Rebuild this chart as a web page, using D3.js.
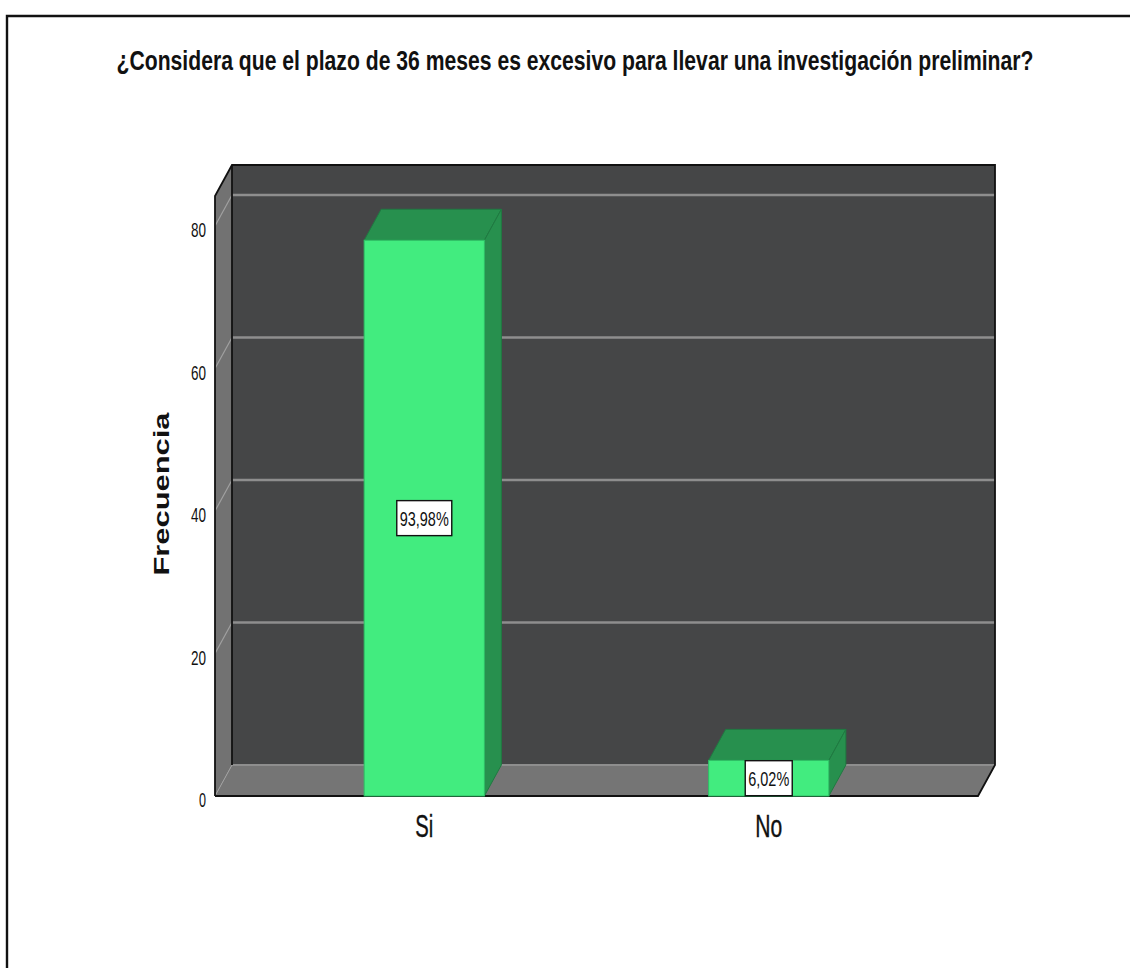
<!DOCTYPE html>
<html><head><meta charset="utf-8">
<script src="https://cdnjs.cloudflare.com/ajax/libs/d3/7.9.0/d3.min.js"></script>
<style>html,body{margin:0;padding:0;background:#fff}svg{display:block}text{font-family:"Liberation Sans",Arial,sans-serif;fill:#111}</style>
</head><body><svg id="c" width="1130" height="968"></svg>
<script>
const titleText = "¿Considera que el plazo de 36 meses es excesivo para llevar una investigación preliminar?";
const yTitle = "Frecuencia";
const categories = ["Si", "No"];
const frequencies = [78, 5];
const percentLabels = ["93,98%", "6,02%"];
const yTicks = [0, 20, 40, 60, 80];

const svg = d3.select("#c");
const dx = 17, dy = -31;
const x0 = 215, x1 = 978, yBase = 796, yTop = 196;
const y = d3.scaleLinear().domain([0, 80]).range([yBase, 226]);
const x = d3.scaleBand().domain(categories).range([x0, x1]).paddingInner(0.651).paddingOuter(0.433);
const pts = a => a.map(p => p.join(",")).join(" ");

// outer frame: left and top edges only, running off the page
svg.append("path").attr("d", "M7,968V16H1130").attr("fill", "none").attr("stroke", "#111").attr("stroke-width", 2.4);

// title: tall, horizontally condensed glyphs, as in the reference
const titleEl = svg.append("text").attr("text-anchor", "middle").attr("font-size", 20).attr("font-weight", 700).text(titleText);
const titleScaleX = 917 / titleEl.node().getComputedTextLength();
titleEl.attr("transform", `translate(575,70) scale(${titleScaleX * 20 / 27},${27 / 20}) scale(${27 / 20},1)`);

// walls
svg.append("rect").attr("x", x0 + dx).attr("y", yTop + dy).attr("width", x1 - x0).attr("height", yBase - yTop).attr("fill", "#454647");
svg.append("polygon").attr("points", pts([[x0, yTop], [x0 + dx, yTop + dy], [x0 + dx, yBase + dy], [x0, yBase]])).attr("fill", "#727272");
svg.append("polygon").attr("points", pts([[x0, yBase], [x0 + dx, yBase + dy], [x1 + dx, yBase + dy], [x1, yBase]])).attr("fill", "#757575");

// grid
yTicks.filter(t => t > 0).forEach(t => {
  svg.append("line").attr("x1", x0).attr("y1", y(t)).attr("x2", x0 + dx).attr("y2", y(t) + dy).attr("stroke", "#a0a0a0").attr("stroke-width", 1.2);
  svg.append("line").attr("x1", x0 + dx).attr("y1", y(t) + dy).attr("x2", x1 + dx).attr("y2", y(t) + dy).attr("stroke", "#8e8e8e").attr("stroke-width", 2.4);
});
svg.append("line").attr("x1", x0 + dx).attr("y1", y(0) + dy).attr("x2", x1 + dx).attr("y2", y(0) + dy).attr("stroke", "#8e8e8e").attr("stroke-width", 2);
svg.append("line").attr("x1", x0).attr("y1", yBase).attr("x2", x0 + dx).attr("y2", yBase + dy).attr("stroke", "#a0a0a0").attr("stroke-width", 1);

// wall outlines
svg.append("path").attr("d", `M${x0},${yBase}V${yTop}L${x0 + dx},${yTop + dy}H${x1 + dx}V${yBase + dy}L${x1},${yBase}H${x0}`)
  .attr("fill", "none").attr("stroke", "#111").attr("stroke-width", 1.8);
svg.append("line").attr("x1", x0 + dx).attr("y1", yTop + dy).attr("x2", x0 + dx).attr("y2", yBase + dy).attr("stroke", "#111").attr("stroke-width", 1.8);

// bars
categories.forEach((c, i) => {
  const l = x(c), r = l + x.bandwidth(), t = y(frequencies[i]);
  svg.append("polygon").attr("points", pts([[l, t], [l + dx, t + dy], [r + dx, t + dy], [r, t]])).attr("fill", "#27904e").attr("stroke", "#1f7a41").attr("stroke-width", 1);
  svg.append("polygon").attr("points", pts([[r, t], [r + dx, t + dy], [r + dx, yBase + dy], [r, yBase]])).attr("fill", "#27904e").attr("stroke", "#1f7a41").attr("stroke-width", 1);
  svg.append("rect").attr("x", l).attr("y", t).attr("width", x.bandwidth()).attr("height", yBase - t).attr("fill", "#42ec7f").attr("stroke", "#2fbf66").attr("stroke-width", 1);
  const cx = l + x.bandwidth() / 2, cy = (t + yBase) / 2;
  const w = i === 0 ? 55 : 47, h = 35;
  svg.append("rect").attr("x", cx - w / 2).attr("y", cy - h / 2).attr("width", w).attr("height", h).attr("fill", "#fff").attr("stroke", "#111").attr("stroke-width", 1.4);
  svg.append("text").attr("x", cx).attr("y", cy + 8).attr("text-anchor", "middle").attr("font-size", 21)
    .attr("textLength", w - 6).attr("lengthAdjust", "spacingAndGlyphs").attr("fill", "#222").text(percentLabels[i]);
  svg.append("text").attr("x", cx).attr("y", 837).attr("text-anchor", "middle").attr("font-size", 31)
    .attr("stroke", "#111").attr("stroke-width", 0.4)
    .attr("textLength", c === "Si" ? 18 : 27).attr("lengthAdjust", "spacingAndGlyphs").text(c);
});

// y axis labels
const ax = svg.append("g").attr("transform", `translate(${x0 - 9},3.5)`)
  .call(d3.axisLeft(y).tickValues(yTicks).tickSize(0).tickPadding(0));
ax.select(".domain").remove();
ax.selectAll("text").attr("font-size", 21).attr("fill", "#222").attr("font-family", "Liberation Sans").attr("dy", "0.34em")
  .attr("textLength", d => d === 0 ? 7 : 15).attr("lengthAdjust", "spacingAndGlyphs");

// y title
svg.append("text").attr("transform", "translate(169,494) rotate(-90)").attr("text-anchor", "middle")
  .attr("font-size", 22).attr("font-weight", 700).attr("textLength", 163).attr("lengthAdjust", "spacingAndGlyphs").text(yTitle);
</script></body></html>
